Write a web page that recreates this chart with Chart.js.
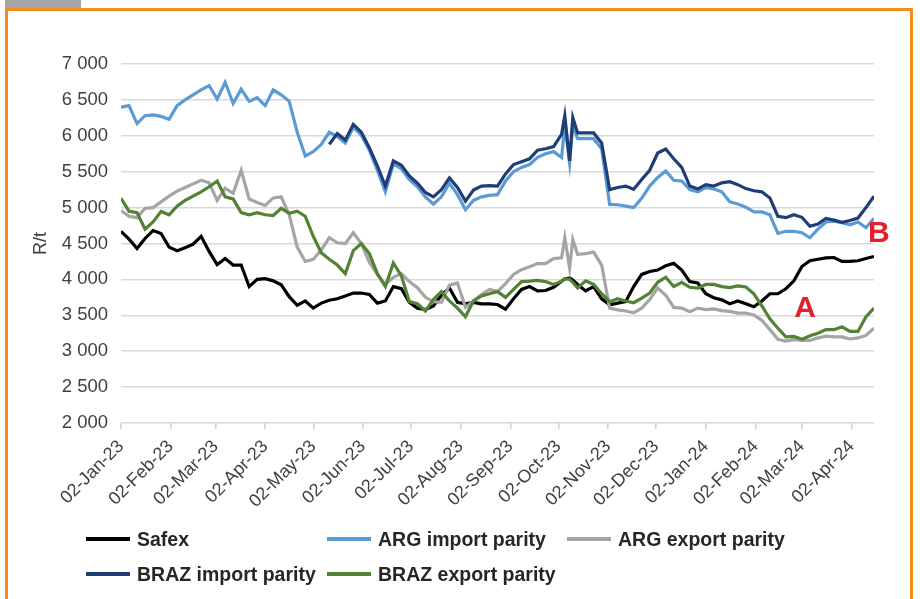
<!DOCTYPE html>
<html>
<head>
<meta charset="utf-8">
<script src="https://cdn.jsdelivr.net/npm/chart.js@4.4.1/dist/chart.umd.min.js"></script>
<style>
    body { margin: 0; background: #fff; font-family: "Liberation Sans", Arial, sans-serif; }
    #wrap { position: relative; width: 920px; height: 599px; overflow: hidden; background: #fff; }
    .tab { position: absolute; left: 5px; top: 0; width: 76px; height: 8px; background: #a6a6a6; }
    .frame { position: absolute; left: 5px; top: 8px; width: 902px; height: 640px; border: 3.5px solid #f68b1f; }
    #chart { position: absolute; left: 0; top: 0; }
    .leg { position: absolute; display: flex; align-items: center; font-weight: bold; font-size: 19.5px; color: #262626; white-space: nowrap; }
    .leg span.line { display: inline-block; width: 44px; height: 4px; margin-right: 7px; }
</style>
</head>
<body>
<div id="wrap">
    <div class="tab"></div>
    <div class="frame"></div>
    <canvas id="chart" width="920" height="599"></canvas>
    <div id="legend"></div>
</div>
<script>
// --- DATA ---
// days counted from 02-Jan-23
const days = [0,5,10,15,20,25,30,35,40,45,50,55,60,65,70,75,80,85,90,95,100,105,110,115,
    120,125,130,135,140,145,150,155,160,165,170,175,180,185,190,195,200,205,210,215,220,225,230,235,
    240,245,250,255,260,265,270,275,277,280,282,
    285,290,295,300,305,310,315,320,325,330,335,340,345,350,
    355,360,365,370,375,380,385,390,395,400,405,410,415,420,425,430,435,440,445,450,455,460,465,470];

const safex = [4670,4560,4430,4570,4680,4640,4450,4400,4440,4490,4600,4390,4205,4290,4200,4200,3900,4000,4010,3980,3925,3760,3640,3700,
    3600,3670,3710,3730,3770,3810,3810,3790,3670,3700,3900,3870,3680,3600,3580,3630,3780,3880,3680,3660,3680,3660,3660,3650,
    3585,3730,3860,3900,3840,3845,3890,3975,4005,4020,3990,
    3930,3840,3900,3730,3645,3670,3690,3900,4070,4110,4130,4190,4225,4130,
    3970,3950,3800,3745,3715,3660,3700,3660,3620,3700,3800,3800,3870,3980,4180,4260,4280,4300,4305,4250,4250,4260,4290,4320];

const argImport = [6400,6420,6170,6280,6290,6270,6230,6420,6500,6570,6640,6700,6510,6745,6450,6650,6480,6530,6420,6640,6570,6480,6050,5720,
    5780,5880,6050,5990,5900,6120,6010,5800,5520,5220,5610,5540,5390,5290,5150,5050,5150,5340,5180,4970,5100,5150,5170,5180,
    5370,5500,5560,5600,5700,5750,5780,5700,6150,5620,6150,
    5960,5960,5960,5820,5045,5040,5020,5000,5130,5300,5420,5510,5380,5370,
    5250,5220,5280,5260,5220,5080,5050,5005,4940,4940,4900,4640,4670,4670,4650,4580,4700,4800,4810,4790,4760,4800,4720,4850];

const argExport = [4960,4880,4860,4990,5000,5080,5160,5230,5280,5330,5380,5345,5100,5270,5200,5520,5120,5070,5030,5135,5150,4900,4450,4250,
    4280,4410,4580,4510,4500,4650,4500,4240,4070,3930,4030,4080,3970,3885,3750,3690,3680,3920,3950,3610,3700,3790,3860,3830,
    3940,4070,4135,4175,4220,4220,4290,4300,4580,4160,4555,
    4350,4360,4380,4200,3600,3575,3560,3535,3600,3720,3880,3780,3610,3600,
    3550,3600,3580,3590,3565,3555,3530,3530,3505,3430,3300,3165,3140,3160,3150,3150,3185,3210,3200,3200,3170,3185,3220,3320];

const brazImport = [null,null,null,null,null,null,null,null,null,null,null,null,null,null,null,null,null,null,null,null,null,null,null,null,
    null,null,5880,6030,5940,6160,6050,5835,5580,5300,5650,5590,5440,5340,5210,5150,5250,5415,5280,5090,5245,5300,5305,5300,
    5470,5600,5640,5680,5800,5820,5850,6020,6280,5650,6255,
    6040,6040,6040,5900,5250,5280,5300,5255,5390,5520,5760,5815,5680,5560,
    5300,5260,5320,5300,5345,5360,5320,5265,5235,5220,5135,4880,4860,4900,4865,4740,4770,4850,4825,4795,4820,4855,5000,5160];

const brazExport = [5130,4950,4930,4700,4800,4945,4900,5020,5100,5160,5220,5290,5370,5150,5120,4930,4900,4930,4900,4890,4990,4920,4950,4880,
    4600,4370,4280,4200,4080,4400,4500,4360,4080,3900,4230,4050,3690,3660,3560,3720,3830,3700,3600,3480,3700,3770,3800,3830,
    3750,3860,3970,3975,3985,3970,3930,3975,4010,4000,3960,
    3880,3980,3930,3800,3690,3730,3700,3675,3740,3810,3960,4030,3900,3960,
    3890,3880,3930,3930,3900,3885,3910,3895,3800,3630,3450,3320,3200,3205,3165,3215,3250,3300,3300,3340,3275,3275,3480,3600];

const seriesNames = ['Safex', 'ARG import parity', 'ARG export parity', 'BRAZ import parity', 'BRAZ export parity'];
const seriesColors = ['#000000', '#5b9bd5', '#a5a5a5', '#1f3e78', '#548235'];
const tickLabels = ['02-Jan-23','02-Feb-23','02-Mar-23','02-Apr-23','02-May-23','02-Jun-23','02-Jul-23','02-Aug-23',
    '02-Sep-23','02-Oct-23','02-Nov-23','02-Dec-23','02-Jan-24','02-Feb-24','02-Mar-24','02-Apr-24'];
const marks = [{ text: 'A', day: 427, value: 3590 }, { text: 'B', day: 473, value: 4640 }];

document.addEventListener('DOMContentLoaded', function() {

    const FONT = '"Liberation Sans", Arial, sans-serif';
    const months = ['Jan','Feb','Mar','Apr','May','Jun','Jul','Aug','Sep','Oct','Nov','Dec'];

    // day offset of each tick label from 02-Jan-23
    const origin = Date.UTC(2023, 0, 2);
    const tickDays = tickLabels.map(l => {
        const p = l.split('-');
        return (Date.UTC(2000 + Number(p[2]), months.indexOf(p[1]), Number(p[0])) - origin) / 86400000;
    });

    const allValues = [safex, argImport, argExport, brazImport, brazExport];
    const datasets = allValues.map((vals, i) => ({
        label: seriesNames[i],
        data: days.map((d, k) => ({ x: d, y: vals[k] })),
        borderColor: seriesColors[i],
        borderWidth: 3.2,
        pointRadius: 0,
        tension: 0,
        spanGaps: false,
        order: allValues.length - i
    }));

    // --- A / B labels ---
    const markPlugin = {
        id: 'marks',
        afterDatasetsDraw(chart) {
            const ctx = chart.ctx;
            ctx.save();
            ctx.fillStyle = '#e3202b';
            ctx.font = 'bold 30px ' + FONT;
            ctx.textAlign = 'center';
            ctx.textBaseline = 'middle';
            marks.forEach(m => {
                ctx.fillText(m.text, chart.scales.x.getPixelForValue(m.day), chart.scales.y.getPixelForValue(m.value));
            });
            ctx.restore();
        }
    };

    new Chart(document.getElementById('chart'), {
        type: 'line',
        data: { datasets: datasets },
        plugins: [markPlugin],
        options: {
            responsive: false,
            animation: false,
            devicePixelRatio: 1,
            layout: { padding: { left: 0, top: 64, right: 46, bottom: 0 } },
            plugins: { legend: { display: false }, tooltip: { enabled: false } },
            scales: {
                x: {
                    type: 'linear',
                    min: 0,
                    max: 470,
                    afterBuildTicks: s => { s.ticks = tickDays.map(v => ({ value: v })); },
                    afterFit: s => { s.height = 176; },
                    grid: { drawOnChartArea: false, drawTicks: true, tickLength: 6, color: '#d0d0d0', lineWidth: 1.5 },
                    border: { display: false },
                    ticks: {
                        autoSkip: false,
                        minRotation: 45,
                        maxRotation: 45,
                        padding: 7,
                        color: '#404040',
                        font: { family: FONT, size: 18 },
                        callback: (v, i) => tickLabels[i]
                    }
                },
                y: {
                    min: 2000,
                    max: 7000,
                    afterFit: s => { s.width = 121; },
                    grid: { color: '#d9d9d9', lineWidth: 1.5, drawTicks: false },
                    border: { display: false },
                    ticks: {
                        stepSize: 500,
                        padding: 13,
                        color: '#404040',
                        font: { family: FONT, size: 18.5 },
                        callback: v => String(v).replace(/\B(?=(\d{3})+(?!\d))/g, ' ')
                    },
                    title: { display: true, text: 'R/t', color: '#404040', font: { family: FONT, size: 18 }, padding: { top: 30, bottom: 0 } }
                }
            }
        }
    });

    // --- LEGEND (3 columns, 2 rows) ---
    const legend = document.getElementById('legend');
    const colX = [86, 327, 567];
    const rowY = [539, 574];
    seriesNames.forEach((name, i) => {
        const div = document.createElement('div');
        div.className = 'leg';
        div.style.left = colX[i % 3] + 'px';
        div.style.top = (rowY[Math.floor(i / 3)] - 11) + 'px';
        div.style.height = '22px';
        div.innerHTML = `<span class="line" style="background:${seriesColors[i]}"></span>${name}`;
        legend.appendChild(div);
    });
});
</script>
</body>
</html>
